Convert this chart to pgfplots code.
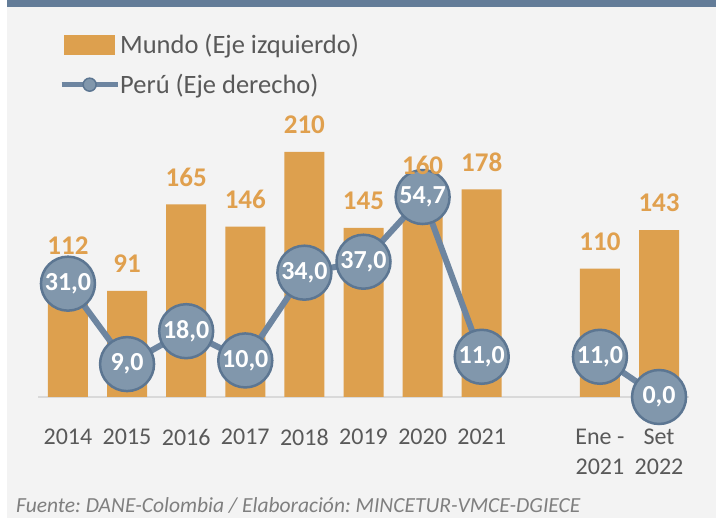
\documentclass[border=0pt]{standalone}
\usepackage{pgfplots}
\pgfplotsset{compat=1.18}
\usepackage{pgfplotstable}
\usepackage{fontspec}
\setmainfont{Carlito}
\frenchspacing
\definecolor{barC}{HTML}{DDA04E}
\definecolor{labC}{HTML}{E0A04E}
\definecolor{lineC}{HTML}{6D85A0}
\definecolor{circF}{HTML}{8197AC}
\definecolor{circB}{HTML}{5C7692}
\definecolor{bandC}{HTML}{637C98}
\definecolor{bgC}{HTML}{F3F3F3}
\definecolor{txtC}{HTML}{595959}
\definecolor{footC}{HTML}{7F7F7F}
\definecolor{baseC}{HTML}{D9D9D9}

\pgfplotstableread{
x y off
0 112 21
1 91 27
2 165 27
3 146 27
4 210 27
5 145 27
6 160 45
7 178 27
9 110 27
10 143 27
}\mundo
\pgfplotstableread{
x y lab
0 31 31,0
1 9 9,0
2 18 18,0
3 10 10,0
4 34 34,0
5 37 37,0
6 54.7 54,7
7 11 11,0
}\perua
\pgfplotstableread{
x y lab
9 11 11,0
10 0 0,0
}\perub

\begin{document}
\begin{tikzpicture}
\fill[white] (0bp,0bp) rectangle (716bp,518bp);
\fill[bgC] (7bp,0bp) rectangle (716bp,518bp);
\fill[bandC] (7bp,511bp) rectangle (716bp,518bp);
\pgfplotsset{
  common/.style={
    at={(38.4bp,121bp)}, anchor=south west,
    scale only axis, width=650.2bp, height=287bp,
    xmin=-0.5, xmax=10.5, ymin=0, clip=false,
  },
  peru/.style={
    color=lineC, line width=6bp, mark=*, mark size=27bp,
    mark options={fill=circF, draw=circB, line width=2.5bp},
    nodes near coords, point meta=explicit symbolic,
    every node near coord/.append style={anchor=center, text=white,
      font=\bfseries\fontsize{26bp}{28bp}\selectfont},
  },
}
\begin{axis}[common, ymax=246, ybar,
  axis x line=bottom, axis y line=none,
  x axis line style={draw=baseC, line width=2bp, -},
  xtick={0,1,2,3,4,5,6,7,9,10},
  xticklabels={2014,2015,2016,2017,2018,2019,2020,2021,{Ene -\\2021},{Set\\2022}},
  major tick length=0pt,
  xticklabel style={font=\fontsize{24bp}{30bp}\selectfont, text=txtC, align=center, anchor=north, inner sep=0pt, yshift=-32bp},
  legend style={at={(0.0316,1.1577)}, anchor=west, draw=none, fill=none, inner sep=0pt,
    row sep=15bp, column sep=-2bp, font=\fontsize{26.5bp}{30bp}\selectfont, text=txtC},
  legend cell align=left,
]
\addplot[fill=barC, draw=none, bar width=40bp,
  legend image code/.code={\fill[barC] (2.25bp,-10bp) rectangle (53.75bp,10bp);}]
  table[x=x,y=y]{\mundo};
\addlegendentry{Mundo (Eje izquierdo)}
\addlegendimage{legend image code/.code={\draw[lineC, line width=5bp] (0bp,0bp) -- (56bp,0bp); \draw[fill=circF, draw=circB, line width=1.5bp] (28bp,0bp) circle (6.5bp);}}
\addlegendentry{Perú (Eje derecho)}
\end{axis}
\begin{axis}[common, ymax=78.5, axis lines=none]
\addplot[peru] table[x=x,y=y,meta=lab]{\perua};
\addplot[peru] table[x=x,y=y,meta=lab]{\perub};
\end{axis}
% value labels of the bars, drawn on top of the circles
\begin{axis}[common, ymax=246, axis lines=none]
\addplot[draw=none, mark=none, only marks,
  nodes near coords, point meta=explicit symbolic,
  visualization depends on={\thisrow{off} \as \myoff},
  every node near coord/.append style={anchor=center, yshift=\myoff*1bp, text=labC,
    font=\bfseries\fontsize{27bp}{30bp}\selectfont}]
  table[x=x,y=y,meta=y]{\mundo};
\end{axis}
\node[anchor=west, text=footC, font=\itshape\fontsize{21.5bp}{24bp}\selectfont, inner sep=0pt] at (16bp,13bp) {Fuente: DANE-Colombia / Elaboración: MINCETUR-VMCE-DGIECE};
\pgfresetboundingbox
\useasboundingbox (0bp,0bp) rectangle (716bp,518bp);
\end{tikzpicture}
\end{document}
